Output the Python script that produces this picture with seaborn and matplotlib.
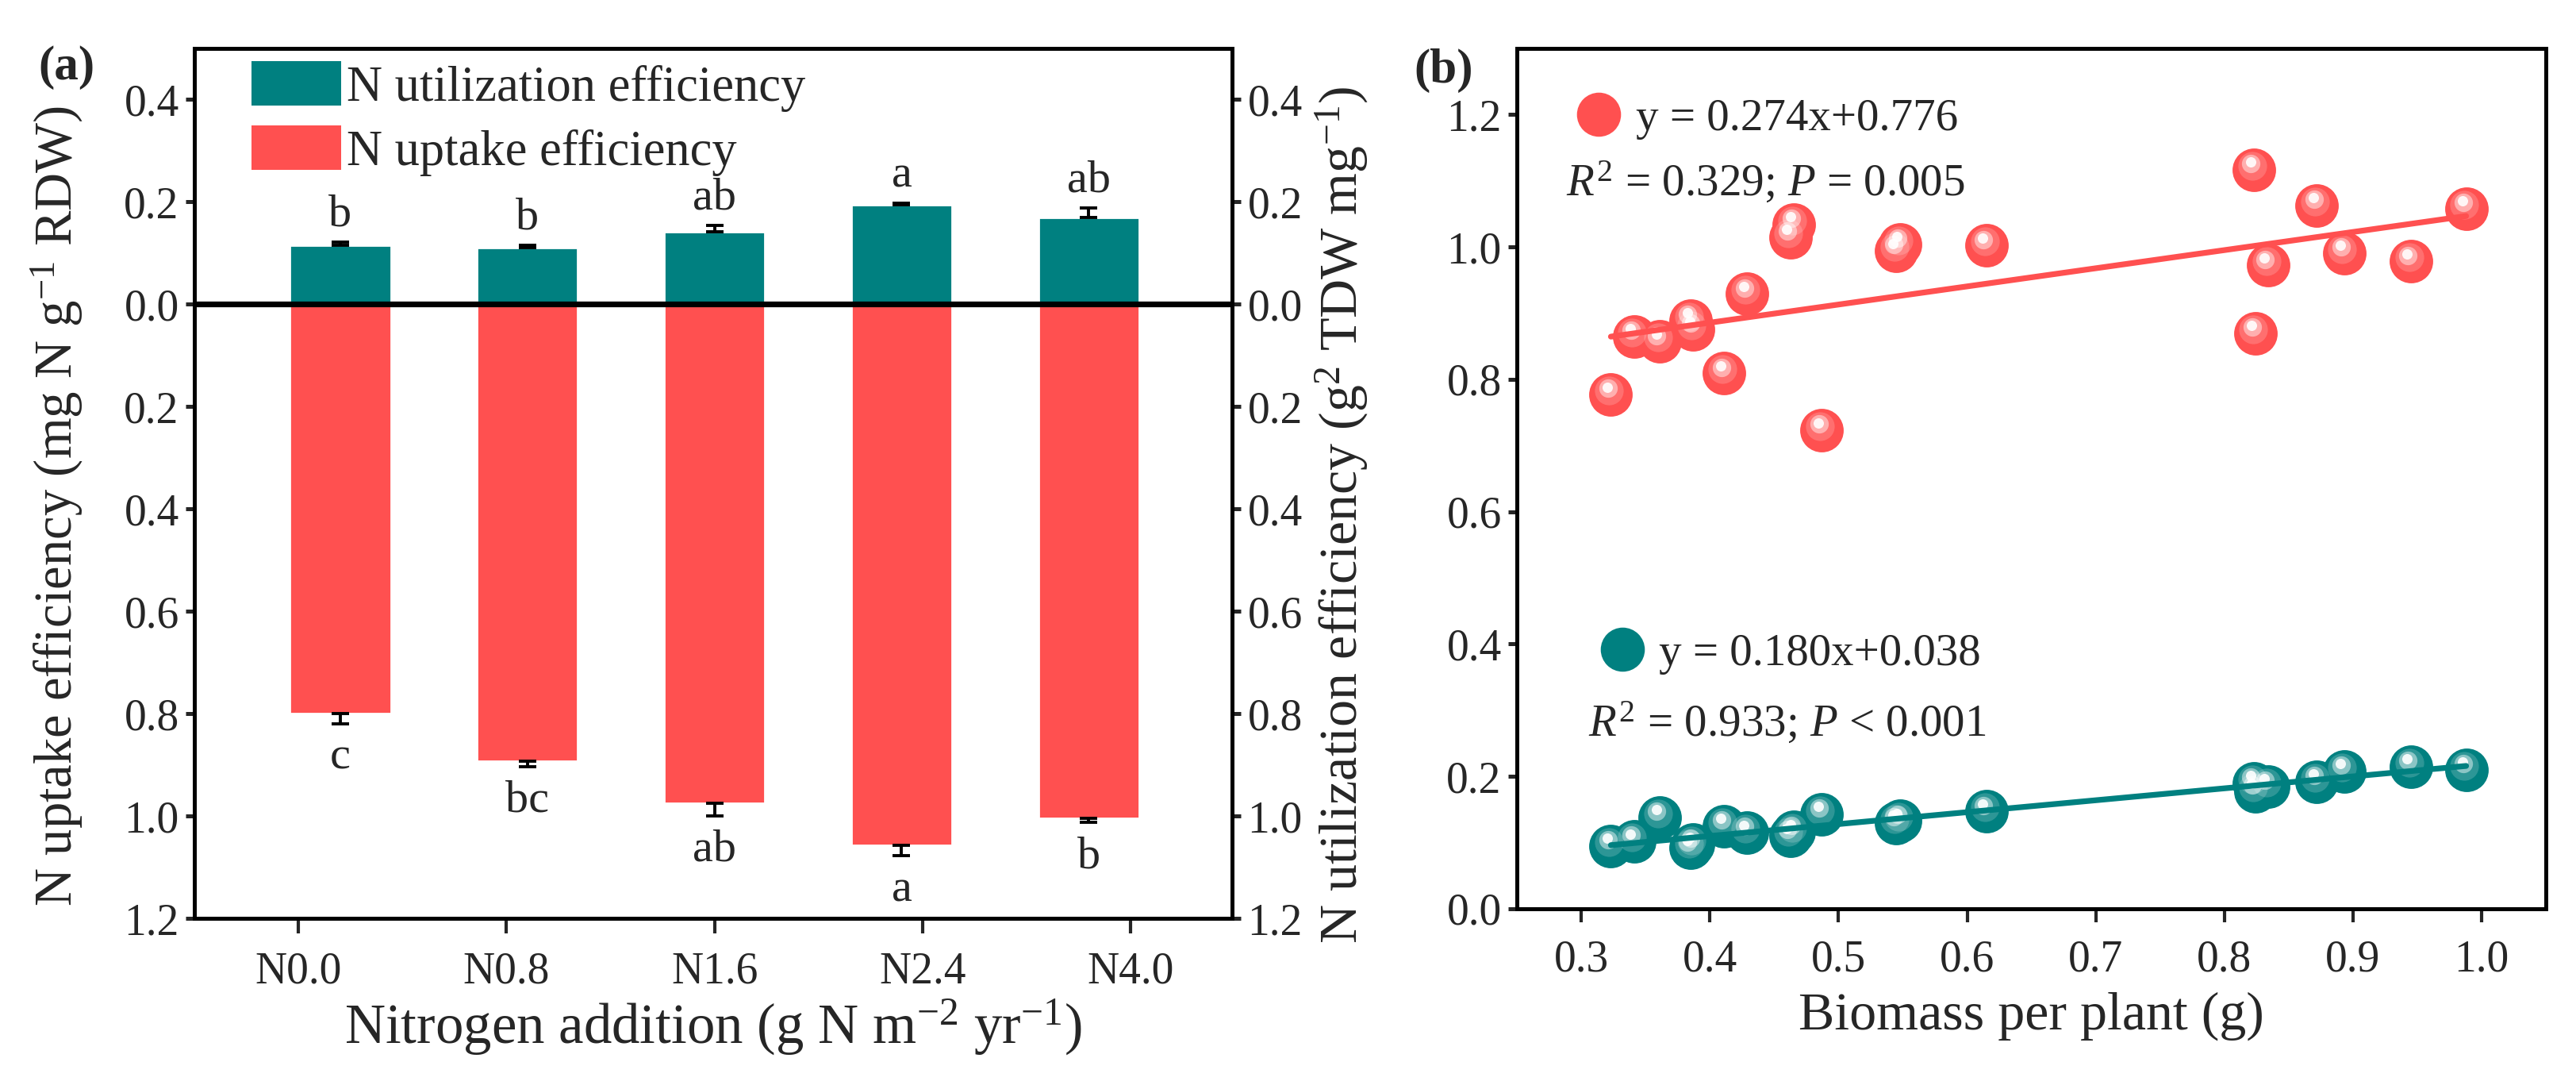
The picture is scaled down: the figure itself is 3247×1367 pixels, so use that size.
import numpy as np
import pandas as pd
import seaborn as sns
import matplotlib.pyplot as plt
from matplotlib.transforms import offset_copy
from matplotlib.lines import Line2D
from matplotlib.patches import Patch

# panel (a) data
treatments = ['N0.0', 'N0.8', 'N1.6', 'N2.4', 'N4.0']
util_mean = [0.115, 0.110, 0.142, 0.195, 0.170]
util_se = [0.006, 0.005, 0.012, 0.003, 0.018]
uptake_mean = [0.800, 0.893, 0.975, 1.058, 1.005]
uptake_se = [0.020, 0.010, 0.025, 0.020, 0.008]
util_letters = ['b', 'b', 'ab', 'a', 'ab']
uptake_letters = ['c', 'bc', 'ab', 'a', 'b']

# panel (b) data
biomass = [0.323, 0.341, 0.361, 0.385, 0.387, 0.411, 0.429, 0.4625, 0.4655, 0.487,
           0.545, 0.548, 0.615, 0.823, 0.824, 0.834, 0.872, 0.893, 0.945, 0.988]
uptake_pts = [0.777, 0.865, 0.857, 0.889, 0.876, 0.809, 0.929, 1.015, 1.034, 0.723,
              0.994, 1.004, 1.002, 1.117, 0.870, 0.972, 1.063, 0.991, 0.978, 1.058]
util_pts = [0.095, 0.102, 0.138, 0.092, 0.097, 0.125, 0.115, 0.110, 0.116, 0.143,
            0.130, 0.133, 0.147, 0.190, 0.178, 0.185, 0.192, 0.208, 0.215, 0.210]
uptake_fit = (0.274, 0.776)
util_fit = (0.180, 0.038)

TEAL = '#008080'
RED = '#FF5050'

sns.set_style('ticks')
plt.rcParams['font.family'] = ['Liberation Serif', 'DejaVu Serif']
plt.rcParams['mathtext.fontset'] = 'custom'
plt.rcParams['mathtext.rm'] = 'Liberation Serif'
plt.rcParams['mathtext.it'] = 'Liberation Serif:italic'
plt.rcParams['axes.linewidth'] = 1.8
plt.rcParams['axes.edgecolor'] = 'black'

fig = plt.figure(figsize=(16.235, 6.835), dpi=200)
ax1 = fig.add_axes([0.0755, 0.1536, 0.4028, 0.8018])
ax2 = fig.add_axes([0.5889, 0.1624, 0.3994, 0.7930])

# ---------- (a) ----------
df = pd.DataFrame({
    'treatment': treatments * 2,
    'value': util_mean + [-v for v in uptake_mean],
    'series': ['N utilization efficiency'] * 5 + ['N uptake efficiency'] * 5,
})
sns.barplot(data=df, x='treatment', y='value', hue='series', palette=[TEAL, RED],
            dodge=False, width=0.54, errorbar=None, saturation=1, legend=False, ax=ax1)

pos = np.arange(len(treatments))
ax1.errorbar(pos, util_mean, yerr=[np.zeros(5), util_se], fmt='none', ecolor='black',
             elinewidth=1.4, capsize=4, capthick=1.4, zorder=5)
ax1.errorbar(pos, -np.array(uptake_mean), yerr=[uptake_se, np.zeros(5)], fmt='none',
             ecolor='black', elinewidth=1.4, capsize=4, capthick=1.4, zorder=5)

for i in range(5):
    ax1.annotate(util_letters[i], (i, util_mean[i] + util_se[i]), xytext=(0, 3),
                 textcoords='offset points', ha='center', va='bottom', fontsize=21)
    ax1.annotate(uptake_letters[i], (i, -(uptake_mean[i] + uptake_se[i])), xytext=(0, -6),
                 textcoords='offset points', ha='center', va='top', fontsize=21)

ax1.axhline(0, color='black', lw=2.6, zorder=6)

yt = [-1.2, -1.0, -0.8, -0.6, -0.4, -0.2, 0.0, 0.2, 0.4]
ylabels = ['%.1f' % abs(v) for v in yt]
ax1.set_ylim(-1.2, 0.5)
ax1.set_yticks(yt)
ax1.set_yticklabels(ylabels)
ax1.set_xlim(-0.779, 4.766)
ax1.set_xticks([2 + (i - 2) * 1.1116 for i in range(5)])
ax1.set_xticklabels(treatments)
ax1.tick_params(axis='x', direction='out', length=7, width=1.5, labelsize=20, pad=8)
ax1.tick_params(axis='y', direction='out', length=4, width=1.8, labelsize=20, pad=3)
ax1.set_xlabel('Nitrogen addition (g N m$^{-2}$ yr$^{-1}$)', fontsize=25.5)
ax1.set_ylabel('N uptake efficiency (mg N g$^{-1}$ RDW)', fontsize=24)
ax1.xaxis.set_label_coords(0.5, -0.125)
ax1.xaxis.label.set_va('center')
ax1.yaxis.set_label_coords(-0.133, 0.474)
ax1.yaxis.label.set_va('center')

ax1r = ax1.twinx()
ax1r.set_ylim(-1.2, 0.5)
ax1r.set_yticks(yt)
ax1r.set_yticklabels(ylabels)
ax1r.tick_params(axis='y', direction='out', length=4, width=1.8, labelsize=20, pad=3)
ax1r.set_ylabel('N utilization efficiency (g$^{2}$ TDW mg$^{-1}$)', fontsize=24.5)
ax1r.yaxis.set_label_coords(1.106, 0.464)
ax1r.yaxis.label.set_va('center')

handles = [Patch(facecolor=TEAL, edgecolor='none'), Patch(facecolor=RED, edgecolor='none')]
ax1.legend(handles, ['N utilization efficiency', 'N uptake efficiency'], loc='upper left',
           bbox_to_anchor=(0.055, 0.985), frameon=False, fontsize=22.5, handlelength=1.8,
           handleheight=1.0, handletextpad=0.12, labelspacing=0.28, borderpad=0, borderaxespad=0)

# ---------- (b) ----------
hl1 = offset_copy(ax2.transData, fig=fig, x=-0.8, y=1.8, units='points')
hl2 = offset_copy(ax2.transData, fig=fig, x=-1.3, y=2.8, units='points')
hl3 = offset_copy(ax2.transData, fig=fig, x=-1.6, y=3.4, units='points')
for yvals, col in [(uptake_pts, RED), (util_pts, TEAL)]:
    sns.scatterplot(x=biomass, y=yvals, color=col, s=390, linewidth=0, ax=ax2, zorder=3)
    sns.scatterplot(x=biomass, y=yvals, color='white', s=170, linewidth=0, alpha=0.18,
                    ax=ax2, zorder=3, transform=hl1)
    sns.scatterplot(x=biomass, y=yvals, color='white', s=70, linewidth=0, alpha=0.45,
                    ax=ax2, zorder=3, transform=hl2)
    sns.scatterplot(x=biomass, y=yvals, color='white', s=22, linewidth=0, alpha=0.9,
                    ax=ax2, zorder=3, transform=hl3)

xs = np.array([min(biomass), max(biomass)])
sns.lineplot(x=xs, y=uptake_fit[0] * xs + uptake_fit[1], color=RED, lw=2.6, ax=ax2, zorder=4)
sns.lineplot(x=xs, y=util_fit[0] * xs + util_fit[1], color=TEAL, lw=2.6, ax=ax2, zorder=4)

ax2.set_xlim(0.25, 1.05)
ax2.set_ylim(0, 1.3)
ax2.set_xticks([0.3, 0.4, 0.5, 0.6, 0.7, 0.8, 0.9, 1.0])
ax2.set_yticks([0.0, 0.2, 0.4, 0.6, 0.8, 1.0, 1.2])
ax2.xaxis.set_major_formatter(plt.FormatStrFormatter('%.1f'))
ax2.yaxis.set_major_formatter(plt.FormatStrFormatter('%.1f'))
ax2.tick_params(axis='x', direction='out', length=6, width=1.5, labelsize=20, pad=8)
ax2.tick_params(axis='y', direction='out', length=4, width=1.8, labelsize=20, pad=3)
ax2.set_xlabel('Biomass per plant (g)', fontsize=24.5)
ax2.xaxis.set_label_coords(0.5, -0.125)
ax2.xaxis.label.set_va('center')
ax2.set_ylabel('')

leg_r = ax2.legend([Line2D([], [], marker='o', ls='', ms=19, color=RED)],
                   ['y = 0.274x+0.776'], loc='center left', bbox_to_anchor=(0.056, 0.918),
                   frameon=False, fontsize=20.5, handlelength=1.05, handletextpad=0.3,
                   borderpad=0, borderaxespad=0)
ax2.add_artist(leg_r)
ax2.legend([Line2D([], [], marker='o', ls='', ms=19, color=TEAL)],
           ['y = 0.180x+0.038'], loc='center left', bbox_to_anchor=(0.079, 0.296),
           frameon=False, fontsize=20.5, handlelength=1.05, handletextpad=0.3,
           borderpad=0, borderaxespad=0)
ax2.text(0.048, 0.844, '$R^2$ = 0.329; $P$ = 0.005', transform=ax2.transAxes,
         fontsize=20.5, va='center', ha='left')
ax2.text(0.069, 0.216, '$R^2$ = 0.933; $P$ < 0.001', transform=ax2.transAxes,
         fontsize=20.5, va='center', ha='left')

fig.text(0.0148, 0.938, '(a)', fontsize=22, fontweight='bold', va='center', ha='left')
fig.text(0.549, 0.935, '(b)', fontsize=22, fontweight='bold', va='center', ha='left')

fig.savefig('out.png', dpi=200)
